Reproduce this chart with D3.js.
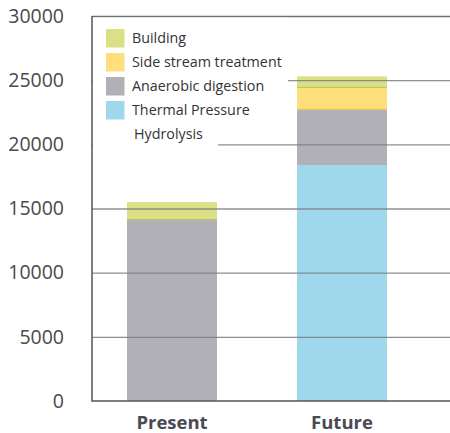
<!DOCTYPE html>
<html>
<head>
<meta charset="utf-8">
<script src="https://cdn.jsdelivr.net/npm/d3@7"></script>
<style>
  body { margin: 0; background: #fff; }
  svg { display: block; font-family: "Open Sans", sans-serif; }
</style>
</head>
<body>
<svg id="chart" width="450" height="433"></svg>
<script>
// Stacked cost breakdown, present vs future
const categories = ["Present", "Future"];
const seriesNames = ["Thermal Pressure Hydrolysis", "Anaerobic digestion", "Side stream treatment", "Building"];
const thermalPressure = [0, 18400];
const anaerobicDigestion = [14100, 4300];
const sideStream = [0, 1700];
const building = [1400, 900];
const yTicks = [0, 5000, 10000, 15000, 20000, 25000, 30000];

const colors = {
  "Thermal Pressure Hydrolysis": "#9fd8ec",
  "Anaerobic digestion": "#b1b0b6",
  "Side stream treatment": "#ffdf7c",
  "Building": "#dbe086"
};
const edgeColors = {
  "Thermal Pressure Hydrolysis": "#9fd8ec",
  "Anaerobic digestion": "#b1b0b6",
  "Side stream treatment": "#e9c24a",
  "Building": "#b5c267"
};

const rows = categories.map((c, i) => ({
  category: c,
  "Thermal Pressure Hydrolysis": thermalPressure[i],
  "Anaerobic digestion": anaerobicDigestion[i],
  "Side stream treatment": sideStream[i],
  "Building": building[i]
}));

const svg = d3.select("#chart");
const mLeft = 92, mRight = 450, mTop = 16, mBottom = 401;

const y = d3.scaleLinear().domain([0, 30000]).range([mBottom, mTop]);
const x = d3.scaleBand().domain(categories).range([mLeft, 422]).paddingInner(0.4706).paddingOuter(0.206);
const bw = x.bandwidth();

const stack = d3.stack().keys(seriesNames)(rows);

// bars
const layers = svg.append("g").selectAll("g").data(stack).join("g")
  .attr("fill", d => colors[d.key]);
layers.selectAll("rect").data(d => d.map(p => ({p, key: d.key})).filter(d => d.p[1] - d.p[0] > 0)).join("rect")
  .attr("x", d => x(d.p.data.category))
  .attr("width", bw)
  .attr("y", d => y(d.p[1]))
  .attr("height", d => y(d.p[0]) - y(d.p[1]));
// thin edge at the bottom of upper segments
layers.selectAll("line").data(d => d.map(p => ({p, key: d.key})).filter(d => d.p[1] - d.p[0] > 0 && d.p[0] > 0)).join("line")
  .attr("x1", d => x(d.p.data.category))
  .attr("x2", d => x(d.p.data.category) + bw)
  .attr("y1", d => y(d.p[0]) - 0.5)
  .attr("y2", d => y(d.p[0]) - 0.5)
  .attr("stroke", d => edgeColors[d.key])
  .attr("stroke-width", 1);

// gridlines over the bars
const grid = svg.append("g")
  .attr("transform", `translate(${mLeft},0)`)
  .call(d3.axisRight(y).tickValues(yTicks.filter(v => v > 0)).tickSize(mRight - mLeft).tickFormat(""));
grid.select(".domain").remove();
grid.selectAll(".tick line").attr("stroke", d => d === 30000 ? "#555" : "#7d7d80")
  .attr("stroke-opacity", 0.85).attr("stroke-width", 1.4);

// legend with white background covering the grid
const legend = svg.append("g");
legend.append("rect").attr("x", mLeft + 1).attr("y", mTop + 1.5).attr("width", 288 - mLeft - 1).attr("height", 124).attr("fill", "#fff");
legend.append("rect").attr("x", mLeft + 1).attr("y", 140).attr("width", 218 - mLeft - 1).attr("height", 12).attr("fill", "#fff");

const legendItems = ["Building", "Side stream treatment", "Anaerobic digestion", "Thermal Pressure Hydrolysis"];
legendItems.forEach((k, i) => {
  const cy = 38 + i * 24;
  legend.append("rect").attr("x", 106).attr("y", cy - 9).attr("width", 18.5).attr("height", 18.5).attr("fill", colors[k]);
  const t = legend.append("text").attr("x", 132).attr("y", cy + 5)
    .attr("font-size", 14.3).attr("fill", "#333");
  if (k === "Thermal Pressure Hydrolysis") {
    t.append("tspan").text("Thermal Pressure");
    t.append("tspan").attr("x", 134).attr("dy", 24).text("Hydrolysis");
  } else {
    t.text(k);
  }
});

// y axis
const yAxis = svg.append("g").attr("transform", `translate(${mLeft},0)`)
  .call(d3.axisLeft(y).tickValues(yTicks).tickSize(0).tickPadding(28).tickFormat(d3.format("d")));
yAxis.select(".domain").remove();
yAxis.selectAll("text").attr("font-size", 19.5).attr("fill", "#4a4a4a").attr("font-family", "Open Sans, sans-serif").attr("font-weight", 400);

svg.append("path")
  .attr("d", `M${mLeft},${mTop}V${mBottom}H${mRight}`)
  .attr("fill", "none").attr("stroke", "#555").attr("stroke-width", 1.5);

// x labels
svg.append("g").selectAll("text").data(categories).join("text")
  .attr("x", d => x(d) + bw / 2).attr("y", 429)
  .attr("text-anchor", "middle")
  .attr("font-size", 18.5).attr("font-weight", 700).attr("fill", "#4a4a52")
  .text(d => d);
</script>
</body>
</html>
